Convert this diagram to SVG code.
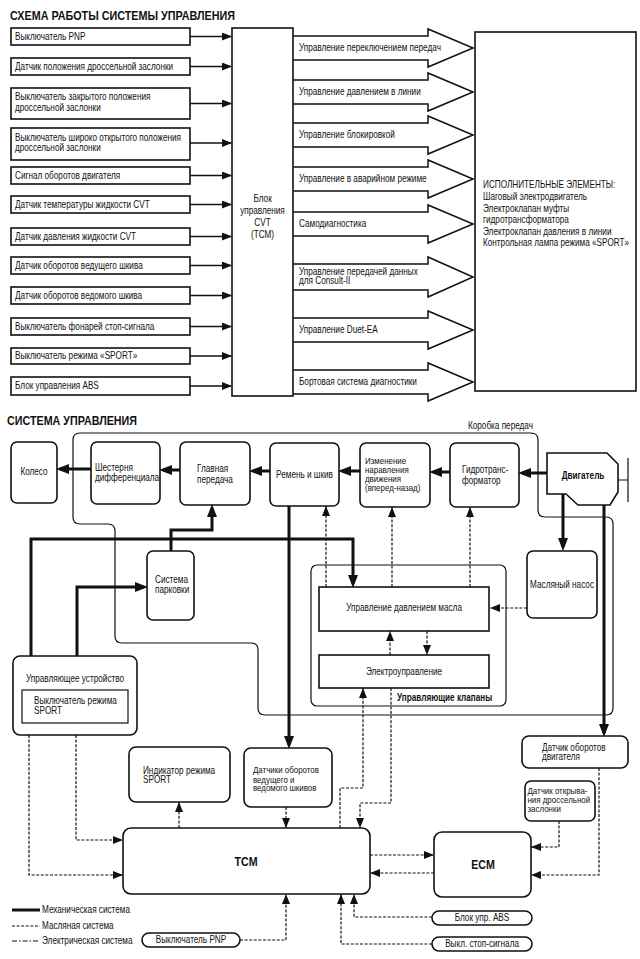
<svg xmlns="http://www.w3.org/2000/svg" width="640" height="959" viewBox="0 0 640 959">
<defs>
<style>
.t{font-family:'Liberation Sans',Arial,sans-serif;font-size:10px;fill:#111;transform-box:fill-box;transform-origin:0 50%;transform:scaleX(0.82)}
.s{font-size:9px;transform:scaleX(0.88)}
.b{font-weight:bold}
.m{text-anchor:middle;transform-origin:50% 50%}
.ti{font-family:'Liberation Sans',Arial,sans-serif;font-size:12.5px;font-weight:bold;fill:#111}
.box{fill:#fff;stroke:#111;stroke-width:1.6}
.thinbox{fill:none;stroke:#111;stroke-width:1.2}
.ln{fill:none;stroke:#111;stroke-width:1.5}
.big{fill:#fff;stroke:#111;stroke-width:1.5}
.mech{fill:none;stroke:#111;stroke-width:3;stroke-linejoin:miter}
.oil{fill:none;stroke:#111;stroke-width:1.2;stroke-dasharray:3 1.6}
.el{fill:none;stroke:#111;stroke-width:1.2;stroke-dasharray:3 1.6}
.eleg{fill:none;stroke:#111;stroke-width:1.2;stroke-dasharray:5 2 1.5 2}
</style>
<marker id="ah" markerUnits="userSpaceOnUse" markerWidth="10" markerHeight="8" refX="9" refY="4" orient="auto"><path d="M0,0 L10,4 L0,8 z" fill="#111"/></marker>
<marker id="am" markerUnits="userSpaceOnUse" markerWidth="13" markerHeight="10" refX="9" refY="5" orient="auto"><path d="M0,0 L13,5 L0,10 z" fill="#111"/></marker>
<marker id="ad" markerUnits="userSpaceOnUse" markerWidth="10" markerHeight="8" refX="10" refY="4" orient="auto"><path d="M0,0 L10,4 L0,8 z" fill="#111"/></marker>
</defs>
<rect width="640" height="959" fill="#fff"/>

<text class="ti" x="10" y="19.5" textLength="225" lengthAdjust="spacingAndGlyphs">СХЕМА РАБОТЫ СИСТЕМЫ УПРАВЛЕНИЯ</text>

<g id="inputs">
<g id="in1"><rect class="box" x="11" y="28" width="179" height="17"/><text class="t" x="15" y="40">Выключатель PNP</text></g>
<g id="in2"><rect class="box" x="11" y="58" width="179" height="17"/><text class="t" x="15" y="70">Датчик положения дроссельной заслонки</text></g>
<g id="in3"><rect class="box" x="11" y="88" width="179" height="31"/><text class="t" x="15" y="100">Выключатель закрытого положения</text><text class="t" x="15" y="111">дроссельной заслонки</text></g>
<g id="in4"><rect class="box" x="11" y="128" width="179" height="32"/><text class="t" x="15" y="141">Выключатель широко открытого положения</text><text class="t" x="15" y="151">дроссельной заслонки</text></g>
<g id="in5"><rect class="box" x="11" y="167" width="179" height="17"/><text class="t" x="15" y="179">Сигнал оборотов двигателя</text></g>
<g id="in6"><rect class="box" x="11" y="196" width="179" height="17"/><text class="t" x="15" y="208">Датчик температуры жидкости CVT</text></g>
<g id="in7"><rect class="box" x="11" y="228" width="179" height="17"/><text class="t" x="15" y="240">Датчик давления жидкости CVT</text></g>
<g id="in8"><rect class="box" x="11" y="257" width="179" height="17"/><text class="t" x="15" y="269">Датчик оборотов ведущего шкива</text></g>
<g id="in9"><rect class="box" x="11" y="287" width="179" height="17"/><text class="t" x="15" y="299">Датчик оборотов ведомого шкива</text></g>
<g id="in10"><rect class="box" x="11" y="318" width="179" height="17"/><text class="t" x="15" y="330">Выключатель фонарей стоп-сигнала</text></g>
<g id="in11"><rect class="box" x="11" y="348" width="179" height="16"/><text class="t" x="15" y="359.5">Выключатель режима «SPORT»</text></g>
<g id="in12"><rect class="box" x="11" y="377" width="179" height="18"/><text class="t" x="15" y="389.5">Блок управления ABS</text></g>
</g>

<g id="top-connectors">
<path class="ln" marker-end="url(#ah)" d="M190,36.5 H231"/>
<path class="ln" marker-end="url(#ah)" d="M190,66.5 H231"/>
<path class="ln" marker-end="url(#ah)" d="M190,103.5 H231"/>
<path class="ln" marker-end="url(#ah)" d="M190,143 H231"/>
<path class="ln" marker-end="url(#ah)" d="M190,175.5 H231"/>
<path class="ln" marker-end="url(#ah)" d="M190,204.5 H231"/>
<path class="ln" marker-end="url(#ah)" d="M190,236.5 H231"/>
<path class="ln" marker-end="url(#ah)" d="M190,265.5 H231"/>
<path class="ln" marker-end="url(#ah)" d="M190,295.5 H231"/>
<path class="ln" marker-end="url(#ah)" d="M190,326.5 H231"/>
<path class="ln" marker-end="url(#ah)" d="M190,356 H231"/>
<path class="ln" marker-end="url(#ah)" d="M190,386 H231"/>
</g>

<g id="functions">
<g id="f1"><path class="big" d="M293,36 H428 V29 L473,48 L428,67 V60 H293"/><text class="t" x="299" y="51.5">Управление переключением передач</text></g>
<g id="f2"><path class="big" d="M293,80 H428 V73 L473,92 L428,111 V104 H293"/><text class="t" x="299" y="95.5">Управление давлением в линии</text></g>
<g id="f3"><path class="big" d="M293,123 H428 V116 L473,135 L428,154 V147 H293"/><text class="t" x="299" y="138.5">Управление блокировкой</text></g>
<g id="f4"><path class="big" d="M293,167 H428 V160 L473,179 L428,198 V191 H293"/><text class="t" x="299" y="182.5">Управление в аварийном режиме</text></g>
<g id="f5"><path class="big" d="M293,212 H428 V205 L473,224 L428,243 V236 H293"/><text class="t" x="299" y="227.5">Самодиагностика</text></g>
<g id="f6"><path class="big" d="M293,264 H428 V257 L473,277 L428,297 V290 H293"/><text class="t" x="299" y="275">Управление передачей данных</text><text class="t" x="299" y="284.5">для Consult-II</text></g>
<g id="f7"><path class="big" d="M293,318 H428 V311 L473,330 L428,349 V342 H293"/><text class="t" x="299" y="333.5">Управление Duet-EA</text></g>
<g id="f8"><path class="big" d="M293,370 H428 V363 L473,382 L428,401 V394 H293"/><text class="t" x="299" y="385.5">Бортовая система диагностики</text></g>
</g>

<g id="tcm-block"><rect class="box" x="232" y="28" width="61" height="368"/>
<text class="t m" x="262.5" y="202">Блок</text><text class="t m" x="262.5" y="214">управления</text><text class="t m" x="262.5" y="226">CVT</text><text class="t m" x="262.5" y="238">(TCM)</text></g>

<g id="actuators"><rect class="box" x="475" y="32" width="161" height="359"/>
<text class="t" x="483" y="188.5">ИСПОЛНИТЕЛЬНЫЕ ЭЛЕМЕНТЫ:</text>
<text class="t" x="483" y="200.5">Шаговый электродвигатель</text>
<text class="t" x="483" y="212">Электроклапан муфты</text>
<text class="t" x="483" y="223.5">гидротрансформатора</text>
<text class="t" x="483" y="235">Электроклапан давления в линии</text>
<text class="t" x="483" y="246.5">Контрольная лампа режима «SPORT»</text></g>

<text class="ti" x="7" y="425" textLength="130" lengthAdjust="spacingAndGlyphs">СИСТЕМА УПРАВЛЕНИЯ</text>

<g id="gearbox"><path class="thinbox" d="M73,517 V440 Q73,433 80,433 H531 Q538,433 538,440 V510 Q538,517 545,517 H606 Q613,517 613,524 V708 Q613,715 606,715 H265 Q258,715 258,708 V650 Q258,643 251,643 H122 Q115,643 115,636 V531 Q115,524 108,524 H80 Q73,524 73,517 Z"/>
<text class="t" x="468" y="429">Коробка передач</text></g>

<g id="wheel"><rect class="box" x="11" y="442" width="46" height="61" rx="6"/><text class="t m" x="34" y="475">Колесо</text></g>
<g id="diff"><rect class="box" x="91" y="442" width="69" height="62" rx="6"/><text class="t" x="95" y="471">Шестерня</text><text class="t" x="95" y="481">дифференциала</text></g>
<g id="final"><rect class="box" x="180" y="442" width="70" height="63" rx="6"/><text class="t" x="197" y="472">Главная</text><text class="t" x="197" y="483">передача</text></g>
<g id="belt"><rect class="box" x="270" y="443" width="69" height="63" rx="6"/><text class="t m" x="304.5" y="478">Ремень и шкив</text></g>
<g id="reverse"><rect class="box" x="360" y="443" width="70" height="64" rx="6"/><text class="t s" x="365" y="464.5">Изменение</text><text class="t s" x="365" y="473.5">наравления</text><text class="t s" x="365" y="482.5">движения</text><text class="t s" x="365" y="491.5">(вперед-назад)</text></g>
<g id="converter"><rect class="box" x="450" y="443" width="69" height="64" rx="6"/><text class="t" x="462" y="473">Гидротранс-</text><text class="t" x="462" y="484">форматор</text></g>
<g id="engine"><polygon class="box" points="547,453 607,453 618,464 618,492 610,505 578,505 566,494 547,494"/><text class="t b m" x="583" y="479">Двигатель</text>
<path class="ln" d="M618,480 H628 M628,458 V502" style="stroke-width:1.2"/></g>

<g id="pump"><rect class="box" x="527" y="551" width="70" height="67" rx="6"/><text class="t m" x="562" y="588">Масляный насос</text></g>
<g id="valves"><rect class="thinbox" x="311" y="565" width="195" height="141" rx="6"/><text class="t b" x="397" y="701">Управляющие клапаны</text></g>
<g id="oilpressure"><rect class="box" x="319" y="587" width="170" height="44"/><text class="t m" x="404" y="611">Управление давлением масла</text></g>
<g id="electro"><rect class="box" x="319" y="655" width="170" height="33"/><text class="t m" x="404" y="675">Электроуправление</text></g>
<g id="parking"><rect class="box" x="147" y="551" width="47" height="69" rx="6"/><text class="t" x="155" y="583">Система</text><text class="t" x="155" y="593">парковки</text></g>
<g id="control"><rect class="box" x="13" y="656" width="124" height="79" rx="7"/><text class="t" x="26" y="682">Управляющее устройство</text>
<rect class="thinbox" x="22" y="690" width="106" height="33"/><text class="t" x="34" y="704.5">Выключатель режима</text><text class="t" x="34" y="714">SPORT</text></g>
<g id="indicator"><rect class="box" x="129" y="747" width="101" height="55" rx="7"/><text class="t" x="143" y="774">Индикатор режима</text><text class="t" x="143" y="783.5">SPORT</text></g>
<g id="pulleysensors"><rect class="box" x="244" y="748" width="88" height="59" rx="7"/><text class="t s" x="253" y="773.5">Датчики оборотов</text><text class="t s" x="253" y="782.5">ведущего и</text><text class="t s" x="253" y="791.5">ведомого шкивов</text></g>
<g id="tcm"><rect class="box" x="123" y="828" width="247" height="66" rx="8"/><text class="t b m" x="246" y="866" style="font-size:13px">TCM</text></g>
<g id="ecm"><rect class="box" x="434" y="832" width="97" height="65" rx="8"/><text class="t b m" x="483" y="869" style="font-size:13px">ECM</text></g>
<g id="enginespeed"><rect class="box" x="522" y="736" width="106" height="32" rx="7"/><text class="t" x="542" y="751">Датчик оборотов</text><text class="t" x="542" y="760.5">двигателя</text></g>
<g id="throttle"><rect class="box" x="525" y="781" width="70" height="40" rx="6"/><text class="t s" x="527.5" y="794.5">Датчик открыва-</text><text class="t s" x="527.5" y="803.5">ния дроссельной</text><text class="t s" x="527.5" y="812.5">заслонки</text></g>
<g id="abs"><rect class="box" x="432" y="911" width="100" height="14" rx="7"/><text class="t m" x="482" y="921.5">Блок упр. ABS</text></g>
<g id="stop"><rect class="box" x="432" y="937" width="100" height="14" rx="7"/><text class="t m" x="482" y="947.5">Выкл. стоп-сигнала</text></g>
<g id="pnp"><rect class="box" x="142" y="933" width="98" height="14" rx="7"/><text class="t m" x="191" y="943.5">Выключатель PNP</text></g>

<g id="connectors">
<path class="mech" marker-end="url(#am)" d="M547,473 H522"/>
<path class="mech" marker-end="url(#am)" d="M450,472 H433"/>
<path class="mech" marker-end="url(#am)" d="M360,471 H342"/>
<path class="mech" marker-end="url(#am)" d="M270,471 H253"/>
<path class="mech" marker-end="url(#am)" d="M180,470 H163"/>
<path class="mech" marker-end="url(#am)" d="M91,469 H60"/>
<path class="mech" marker-end="url(#am)" d="M563,494 V547"/>
<path class="mech" marker-end="url(#am)" d="M604,505 V733"/>
<path class="mech" marker-end="url(#am)" d="M289,506 V745"/>
<path class="mech" marker-end="url(#am)" d="M31,656 V539 H353 V584"/>
<path class="mech" marker-end="url(#am)" d="M171,551 V530 H212 V508"/>
<path class="mech" marker-end="url(#am)" d="M77,656 V587 H144"/>

<path class="oil" marker-end="url(#ad)" d="M527,608 H490"/>
<path class="oil" marker-end="url(#ad)" d="M326,587 V506"/>
<path class="oil" marker-end="url(#ad)" d="M392,587 V507"/>
<path class="oil" marker-end="url(#ad)" d="M470,587 V507"/>
<path class="oil" marker-end="url(#ad)" d="M390,655 V631"/>
<path class="oil" marker-end="url(#ad)" d="M427,631 V655"/>

<path class="el" marker-end="url(#ad)" d="M29,735 V875 H123"/>
<path class="el" marker-end="url(#ad)" d="M76,735 V840 H123"/>
<path class="el" marker-end="url(#ad)" d="M179,828 V802"/>
<path class="el" marker-end="url(#ad)" d="M286,807 V828"/>
<path class="el" marker-end="url(#ad)" d="M340,828 V788 H363 V688"/>
<path class="el" marker-end="url(#ad)" d="M391,688 V803 H360 V828"/>
<path class="el" marker-end="url(#ad)" d="M370,855 H434"/>
<path class="el" marker-end="url(#ad)" d="M434,873 H370"/>
<path class="el" marker-end="url(#ad)" d="M599,768 V875 H531"/>
<path class="el" marker-end="url(#ad)" d="M559,821 V847 H531"/>
<path class="el" marker-end="url(#ad)" d="M432,917 H354 V894"/>
<path class="el" marker-end="url(#ad)" d="M432,944 H341 V894"/>
<path class="el" marker-end="url(#ad)" d="M240,940 H286 V894"/>
</g>

<g id="legend">
<path class="mech" d="M12,910 H40"/>
<path class="oil" d="M12,926 H40"/>
<path class="eleg" d="M12,941 H40"/>
<text class="t" x="42" y="913">Механическая система</text>
<text class="t" x="42" y="929">Масляная система</text>
<text class="t" x="42" y="944">Электрическая система</text>
</g>
</svg>
